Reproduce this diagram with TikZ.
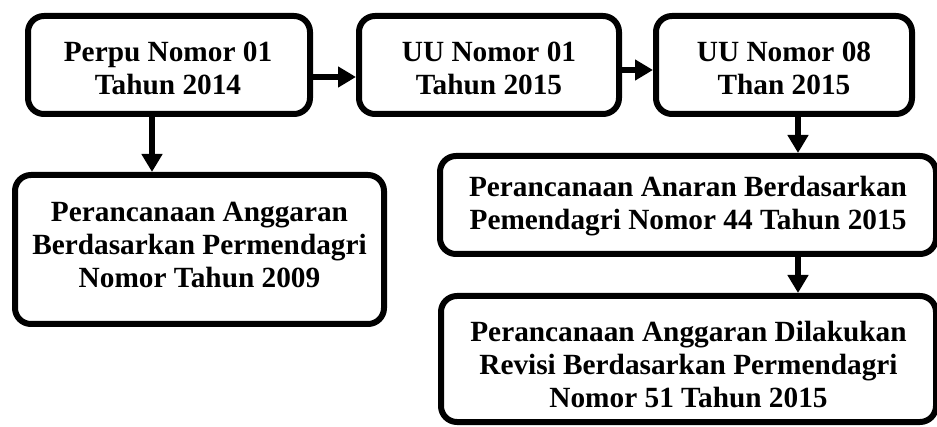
\documentclass[tikz,border=0pt]{standalone}
\usepackage{fontspec}
\setmainfont{Liberation Serif}
\usetikzlibrary{arrows.meta}
\begin{document}
\begin{tikzpicture}[x=1pt,y=-1pt,
  box/.style={draw, line width=6pt, rounded corners=16pt, inner sep=0pt},
  txt/.style={inner sep=0pt, align=center, font=\bfseries\fontsize{29.3}{33}\selectfont},
  arr/.style={line width=6pt, -{Triangle[length=18pt,width=20pt]}}]
\useasboundingbox (0,0) rectangle (937,427);
\node[box, minimum width=282pt, minimum height=98pt] (b1) at (169,65) {};
\node[box, minimum width=260pt, minimum height=98pt] (b2) at (489,65) {};
\node[box, minimum width=256pt, minimum height=98pt] (b3) at (784,65) {};
\node[box, minimum width=369pt, minimum height=149pt] (b4) at (199.5,249.5) {};
\node[box, minimum width=496pt, minimum height=98pt] (b5) at (688,205) {};
\node[box, minimum width=495pt, minimum height=126pt] (b6) at (688.5,359) {};
\node[txt] (t1) at ([xshift=-1pt,yshift=-3pt]b1.center) {Perpu Nomor 01\\Tahun 2014};
\node[txt] (t2) at ([yshift=-3pt]b2.center) {UU Nomor 01\\Tahun 2015};
\node[txt] (t3) at ([yshift=-3pt]b3.center) {UU Nomor 08\\Than 2015};
\node[txt] (t4) at ([yshift=4pt]b4.center) {Perancanaan Anggaran\\Berdasarkan Permendagri\\Nomor Tahun 2009};
\node[txt] (t5) at ([yshift=-1pt]b5.center) {Perancanaan Anaran Berdasarkan\\Pemendagri Nomor 44 Tahun 2015};
\node[txt] (t6) at ([yshift=-6pt]b6.center) {Perancanaan Anggaran Dilakukan\\Revisi Berdasarkan Permendagri\\Nomor 51 Tahun 2015};
\draw[arr] ([yshift=-12pt]b1.east) -- ([yshift=-12pt]b2.west);
\draw[arr] ([yshift=-5pt]b2.east) -- ([yshift=-5pt]b3.west);
\draw[arr] ([xshift=-17pt]b1.south) -- ([xshift=-17pt]b1.south |- b4.north);
\draw[arr] ([xshift=14pt]b3.south) -- ([xshift=14pt]b3.south |- b5.north);
\draw[arr] ([xshift=110pt]b5.south) -- ([xshift=110pt]b5.south |- b6.north);
\end{tikzpicture}
\end{document}
